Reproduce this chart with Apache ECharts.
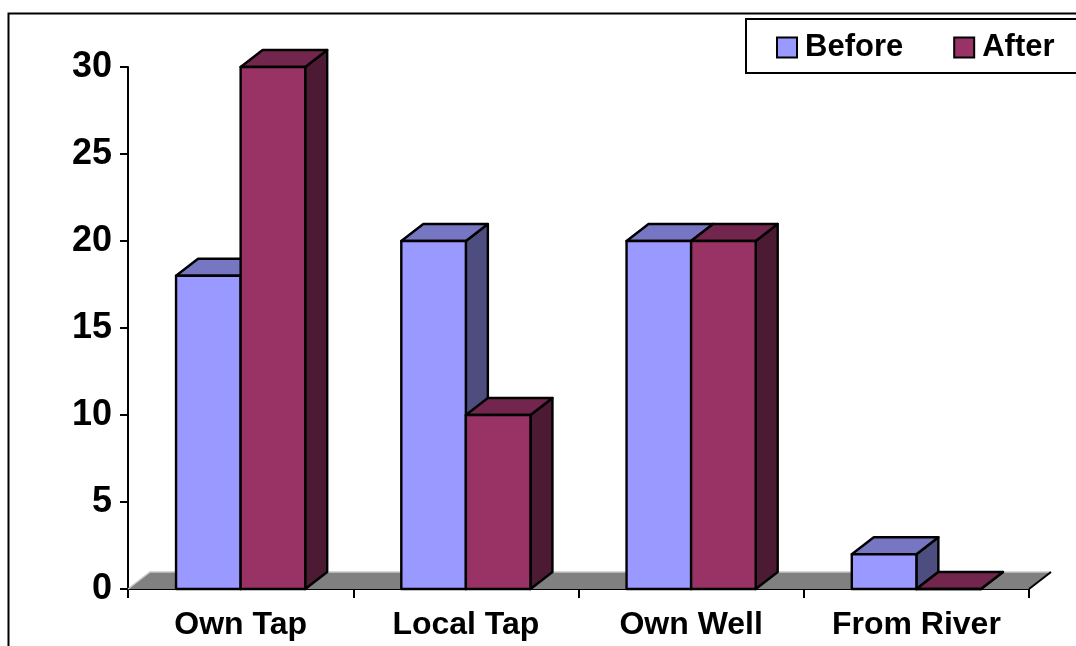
<!DOCTYPE html>
<html>
<head>
<meta charset="utf-8">
<title>Water source: Before / After</title>
<script src="https://cdn.jsdelivr.net/npm/echarts@6/dist/echarts.min.js"></script>
<style>
  html, body { margin: 0; padding: 0; background: #ffffff; }
  #chart { width: 1076px; height: 646px; }
</style>
</head>
<body>
<div id="chart"></div>
<script>
// Chart data
const categories = ['Own Tap', 'Local Tap', 'Own Well', 'From River'];
const seriesNames = ['Before', 'After'];
const beforeValues = [18, 20, 20, 2];
const afterValues = [30, 10, 20, 0];
const yMin = 0, yMax = 30, yStep = 5;

// 3D box styling
const FONT = '"Liberation Sans", Arial, Helvetica, sans-serif';
const DEPTH_X = 22;      // horizontal offset of the back face
const DEPTH_Y = 17;      // vertical offset of the back face
const BAR_RATIO = 0.2867; // bar width as a share of the category band
const palettes = [
  { front: '#9999FF', top: '#7676C2', side: '#4D4D80' },
  { front: '#993366', top: '#73264D', side: '#4D1A33' }
];

function toData(values) {
  return values.map((v, i) => [i, v]);
}

// Draws one extruded column: side face, top face, then front face.
function makeBoxRenderer(seriesIndex) {
  const pal = palettes[seriesIndex];
  return function (params, api) {
    const cat = api.value(0);
    const val = api.value(1);
    const base = api.coord([cat, 0]);
    const top = api.coord([cat, val]);
    const bandW = api.size([1, 0])[0];
    const w = bandW * BAR_RATIO;
    const x0 = seriesIndex === 0 ? base[0] - w : base[0];
    const x1 = x0 + w;
    const yb = base[1];
    const yt = top[1];
    const stroke = { stroke: '#000000', lineWidth: 2.4, lineJoin: 'round' };
    return {
      type: 'group',
      children: [
        {
          type: 'polygon',
          shape: { points: [[x1, yt], [x1 + DEPTH_X, yt - DEPTH_Y], [x1 + DEPTH_X, yb - DEPTH_Y], [x1, yb]] },
          style: Object.assign({ fill: pal.side }, stroke)
        },
        {
          type: 'polygon',
          shape: { points: [[x0, yt], [x0 + DEPTH_X, yt - DEPTH_Y], [x1 + DEPTH_X, yt - DEPTH_Y], [x1, yt]] },
          style: Object.assign({ fill: pal.top }, stroke)
        },
        {
          type: 'rect',
          shape: { x: x0, y: yt, width: w, height: yb - yt },
          style: Object.assign({ fill: pal.front }, stroke)
        }
      ]
    };
  };
}

// Grey floor slab under the columns
function renderFloor(params, api) {
  const cs = params.coordSys;
  const left = cs.x, right = cs.x + cs.width;
  const yb = api.coord([0, 0])[1];
  return {
    type: 'group',
    children: [
      {
        type: 'polygon',
        shape: { points: [[left, yb], [left + DEPTH_X, yb - DEPTH_Y], [right + DEPTH_X, yb - DEPTH_Y], [right, yb]] },
        style: { fill: '#808080', stroke: null }
      },
      {
        type: 'polyline',
        shape: { points: [[left, yb], [left + DEPTH_X, yb - DEPTH_Y], [right + DEPTH_X, yb - DEPTH_Y]] },
        style: { fill: null, stroke: '#C8C8C8', lineWidth: 1.5 }
      },
      {
        type: 'line',
        shape: { x1: right, y1: yb, x2: right + DEPTH_X, y2: yb - DEPTH_Y },
        style: { stroke: '#000000', lineWidth: 2 }
      }
    ]
  };
}

const chart = echarts.init(document.getElementById('chart'), null, { renderer: 'canvas' });

chart.setOption({
  animation: false,
  backgroundColor: '#ffffff',
  textStyle: { fontFamily: FONT },
  grid: { left: 128, right: 47, top: 67, bottom: 57, containLabel: false },
  legend: {
    left: 771,
    top: 27,
    itemWidth: 20,
    itemHeight: 20,
    itemGap: 50,
    icon: 'rect',
    textStyle: { fontSize: 31, fontWeight: 'bold', color: '#000000', fontFamily: FONT, padding: [0, 0, 0, 3] },
    data: [
      { name: seriesNames[0], itemStyle: { color: palettes[0].front, borderColor: '#000000', borderWidth: 2 } },
      { name: seriesNames[1], itemStyle: { color: palettes[1].front, borderColor: '#000000', borderWidth: 2 } }
    ]
  },
  graphic: [
    {
      type: 'rect',
      left: 6, top: 11, silent: true,
      shape: { x: 0, y: 0, width: 1200, height: 800 },
      style: { fill: null, stroke: '#000000', lineWidth: 2 }
    },
    {
      type: 'rect',
      left: 745, top: 18, silent: true, z: -1,
      shape: { x: 0, y: 0, width: 400, height: 54 },
      style: { fill: '#ffffff', stroke: '#000000', lineWidth: 2 }
    }
  ],
  xAxis: {
    type: 'category',
    data: categories,
    boundaryGap: true,
    axisLine: { show: true, lineStyle: { color: '#000000', width: 2 } },
    axisTick: { show: true, length: 9, lineStyle: { color: '#000000', width: 2 } },
    axisLabel: { margin: 20, fontSize: 32, fontWeight: 'bold', color: '#000000', fontFamily: FONT },
    splitLine: { show: false }
  },
  yAxis: {
    type: 'value',
    min: yMin, max: yMax, interval: yStep,
    axisLine: { show: true, lineStyle: { color: '#000000', width: 2 } },
    axisTick: { show: true, length: 8, lineStyle: { color: '#000000', width: 2 } },
    axisLabel: { margin: 16, fontSize: 36, fontWeight: 'bold', color: '#000000', fontFamily: FONT },
    splitLine: { show: false }
  },
  series: [
    {
      name: 'floor',
      type: 'custom',
      z: 1,
      silent: true,
      renderItem: renderFloor,
      data: [[0, 0]],
      encode: { x: 0, y: 1 }
    },
    {
      name: seriesNames[0],
      type: 'custom',
      z: 3,
      itemStyle: { color: palettes[0].front },
      renderItem: makeBoxRenderer(0),
      data: toData(beforeValues),
      encode: { x: 0, y: 1 }
    },
    {
      name: seriesNames[1],
      type: 'custom',
      z: 4,
      itemStyle: { color: palettes[1].front },
      renderItem: makeBoxRenderer(1),
      data: toData(afterValues),
      encode: { x: 0, y: 1 }
    }
  ]
});
</script>
</body>
</html>
